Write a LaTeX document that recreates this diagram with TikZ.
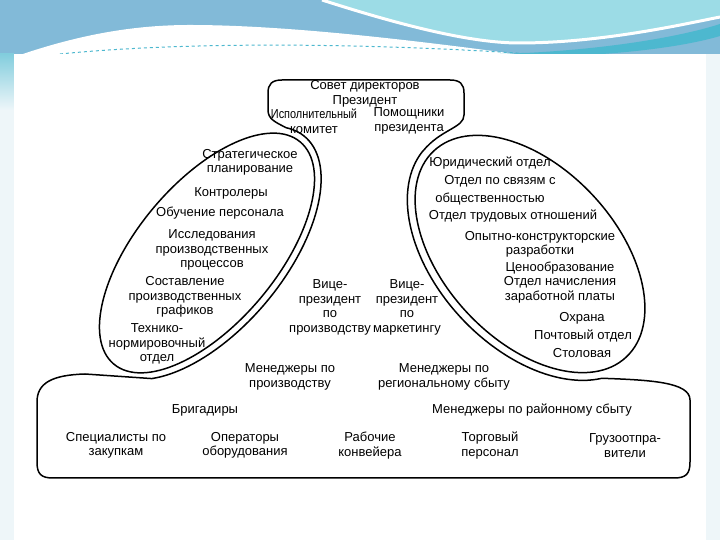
\documentclass[tikz,border=0pt]{standalone}
\usepackage{fontspec}
\setmainfont{Liberation Sans}
\usepackage{graphicx}
\usepackage{tikz}
\usetikzlibrary{positioning, calc}

\definecolor{waveblue}{HTML}{82BAD8}
\definecolor{waveaqua}{HTML}{9CDCE6}
\definecolor{waveteal}{HTML}{4DB8CF}
\definecolor{edgeblue}{HTML}{EEF6F9}

\begin{document}
\begin{tikzpicture}[x=1pt, y=1pt,
    outline/.style={line width=1.5pt, line join=round},
    lbl/.style={align=center, inner sep=0pt, font=\fontsize{13}{14.5}\selectfont}]
    \useasboundingbox (0,0) rectangle (720,540);
    % slide background
    \fill[white] (0,0) rectangle (720,540);
    \fill[waveblue] (0,540) rectangle (720,478);
    \fill[white] (0,470) -- (0,478) .. controls (60,500) and (120,515) .. (190,515)
        .. controls (300,515) and (450,495) .. (560,480) -- (560,470) -- cycle;
    \fill[waveaqua] (322,540) .. controls (400,515) and (470,497) .. (519,497)
        .. controls (600,497) and (680,515) .. (720,523) -- (720,540) -- cycle;
    \draw[white, line width=3pt] (322,540) .. controls (400,515) and (470,497) .. (519,497)
        .. controls (600,497) and (680,515) .. (720,523);
    \fill[waveteal] (500,486) .. controls (600,489) and (680,503) .. (720,516)
        -- (720,504) .. controls (680,492) and (600,482) .. (500,483) -- cycle;
    \draw[waveteal, dashed, line width=1pt] (60,486) .. controls (200,500) and (400,496) .. (560,484);
    \fill[edgeblue] (0,0) rectangle (14,430);
    \shade[top color=waveteal!70, bottom color=edgeblue] (0,430) rectangle (14,486);
    \fill[edgeblue] (706,0) rectangle (720,486);
    \fill[white] (14,0) rectangle (706,486);

    % outer contour
    \draw[outline] (268,430) -- (268,447) .. controls (268,456) and (272,460) .. (282,460)
        -- (450,460) .. controls (460,460) and (464,456) .. (464,447) -- (464,425)
        .. controls (464,412) and (441,411) .. (423,389)
        -- plot[domain=185:340, samples=60, variable=\t]
            ({530+149*cos(\t)*0.682+94*sin(\t)*0.731}, {286-149*cos(\t)*0.731+94*sin(\t)*0.682})
        .. controls (650,160) and (690,158) .. (690,140) -- (690,78)
        .. controls (690,66) and (686,62) .. (674,62) -- (53,62)
        .. controls (41,62) and (37,66) .. (37,78) -- (37,138)
        .. controls (37,157) and (52,165) .. (85,166)
        -- plot[domain=-150:15, samples=60, variable=\t]
            ({207+152*cos(\t)*0.643-77*sin(\t)*0.766}, {287+152*cos(\t)*0.766+77*sin(\t)*0.643})
        .. controls (275,418) and (268,421) .. cycle;
    % staff ellipses
    \draw[outline, rotate around={50:(207,287)}] (207,287) ellipse[x radius=145, y radius=70];
    \draw[outline, rotate around={-47:(530,286)}] (530,286) ellipse[x radius=141, y radius=86];

    % top management
    \node[lbl] (sovet) at (365,446) {Совет директоров\\Президент};
    \node[lbl] (ispkom) at (314,419) {\scalebox{0.84}[1]{Исполнительный}\\комитет};
    \node[lbl] (pomosh) at (409,419) {Помощники\\президента};

    % left ellipse
    \node[lbl] (strat) at (250,377.5) {Стратегическое\\планирование};
    \node[lbl] (kontr) at (231,347) {Контролеры};
    \node[lbl] (obuch) at (220,327) {Обучение персонала};
    \node[lbl] (issled) at (212,290) {Исследования\\производственных\\процессов};
    \node[lbl] (sostav) at (185,243) {Составление\\производственных\\графиков};
    \node[lbl] (tehn) at (157,196) {Технико-\\нормировочный\\отдел};

    % right ellipse
    \node[lbl] (yurid) at (490,377) {Юридический отдел};
    \node[lbl] (svyaz) at (500,359) {Отдел по связям с};
    \node[lbl] (obsch) at (490,341) {общественностью};
    \node[lbl] (trud) at (513,324) {Отдел трудовых отношений};
    \node[lbl] (opyt) at (540,295.5) {Опытно-конструкторские\\разработки};
    \node[lbl] (ceno) at (560,272) {Ценообразование};
    \node[lbl] (nachisl) at (560,250) {Отдел начисления\\заработной платы};
    \node[lbl] (ohrana) at (582,222) {Охрана};
    \node[lbl] (pocht) at (583,204) {Почтовый отдел};
    \node[lbl] (stol) at (582,187) {Столовая};

    % vice presidents
    \node[lbl] (vpproizv) at (330,232.5) {Вице-\\президент\\по\\производству};
    \node[lbl] (vpmark) at (407,232.5) {Вице-\\президент\\по\\маркетингу};

    % middle and lower levels
    \node[lbl] (menproizv) at (290,163) {Менеджеры по\\производству};
    \node[lbl] (menreg) at (444,163) {Менеджеры по\\региональному сбыту};
    \node[lbl] (brig) at (205,130) {Бригадиры};
    \node[lbl] (menrayon) at (532,130) {Менеджеры по районному сбыту};
    \foreach \name/\x/\txt in {spec/116/{Специалисты по\\закупкам}, oper/245/{Операторы\\оборудования},
        rab/370/{Рабочие\\конвейера}, torg/490/{Торговый\\персонал}, gruz/625/{Грузоотпра-\\вители}}
        \node[lbl] (\name) at (\x,94.5) {\txt};
\end{tikzpicture}
\end{document}
